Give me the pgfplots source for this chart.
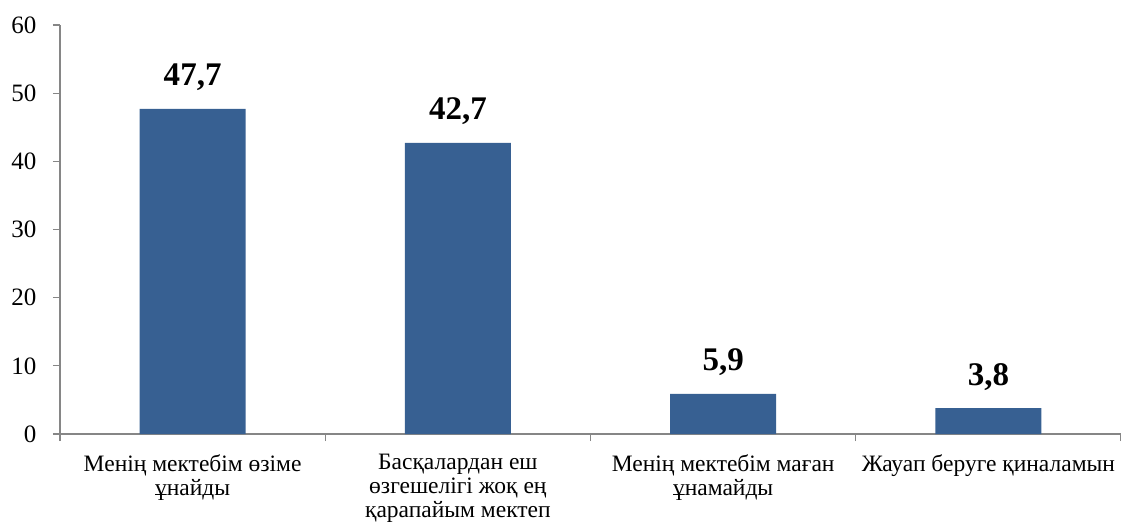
\documentclass[border=0pt]{standalone}
\usepackage{fontspec}
\setmainfont{Liberation Serif}
\usepackage{pgfplots}
\pgfplotsset{compat=1.18}
\definecolor{barblue}{HTML}{376092}
\definecolor{axgray}{HTML}{868686}
\begin{document}
\begin{tikzpicture}
\begin{axis}[
  scale only axis, width=1061pt, height=409pt,
  xmin=-0.5, xmax=3.5, ymin=0, ymax=60,
  axis x line=bottom, axis y line=left,
  axis line style={axgray, line width=1.3pt, -},
  tick style={axgray, line width=1.3pt},
  tick align=outside,
  major tick length=7pt,
  ytick={0,10,20,30,40,50,60},
  y tick label style={font=\fontsize{25}{28}\selectfont, xshift=-13pt},
  /pgf/number format/assume math mode=true,
  xtick={-0.5,0.5,1.5,2.5,3.5},
  xticklabels={},
  extra x ticks={0,1,2,3},
  extra x tick labels={{Менің мектебім өзіме\\ұнайды},{Басқалардан еш\\өзгешелігі жоқ ең\\қарапайым мектеп},{Менің мектебім маған\\ұнамайды},{Жауап беруге қиналамын}},
  extra x tick style={major tick length=0pt, tick label style={font=\fontsize{23.5}{24}\selectfont, align=center, anchor=north, yshift=-17pt}},
  bar width=0.4,
  point meta=y,
  nodes near coords={\pgfmathprintnumber[fixed, precision=1, fixed zerofill, use comma]{\pgfplotspointmeta}},
  nodes near coords style={font=\bfseries\fontsize{33}{36}\selectfont, anchor=base, yshift=23pt, text=black},
]
\addplot[ybar, fill=barblue, draw=none] coordinates {(0,47.7) (1,42.7) (2,5.9) (3,3.8)};
\coordinate (bl) at (rel axis cs:0,0);
\coordinate (tr) at (rel axis cs:1,1);
\end{axis}
\pgfresetboundingbox
\path ([xshift=-60pt,yshift=-92pt]bl) rectangle ([yshift=25pt]tr);
\end{tikzpicture}
\end{document}
